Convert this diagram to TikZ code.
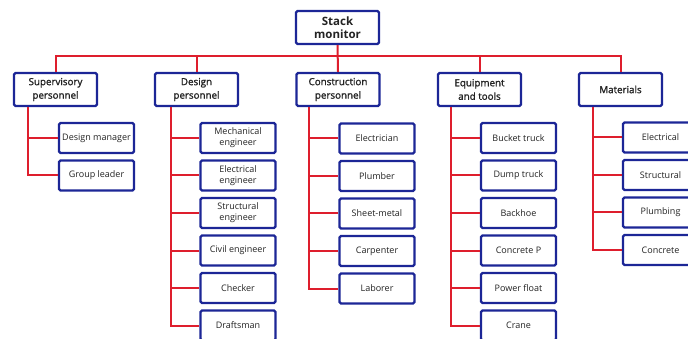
\documentclass[tikz,border=0pt]{standalone}
\usepackage{fontspec}
\setmainfont{Open Sans}
\newfontfamily\semib[FakeBold=1.4]{Open Sans}
\definecolor{boxblue}{RGB}{28,38,150}
\definecolor{linered}{RGB}{222,30,45}
\definecolor{txt}{RGB}{35,35,35}
\begin{document}
\begin{tikzpicture}[x=1pt,y=-1pt,
  box/.style={draw=boxblue,line width=2.2pt,rounded corners=1.5pt,fill=white,text=txt,align=center,inner sep=0pt},
  topbox/.style={box,minimum width=83pt,minimum height=33pt,font=\fontsize{11.5}{13.5}\selectfont\bfseries},
  midbox/.style={box,minimum width=83pt,minimum height=33pt,font=\semib\fontsize{9.8}{13.5}\selectfont},
  leaf/.style={box,minimum width=75pt,minimum height=30pt,font=\fontsize{9}{11}\selectfont},
  wire/.style={draw=linered,line width=2pt}]
\useasboundingbox (0,0) rectangle (688,339);
\clip (0,0) rectangle (688,339);
% top
\node[topbox] (top) at (337.5,27.5) {Stack\\monitor};
% level 2
\node[midbox] (p1) at (55.5,89.5) {Supervisory\\personnel};
\node[midbox] (p2) at (196.5,89.5) {Design\\personnel};
\node[midbox] (p3) at (338,89.5) {Construction\\personnel};
\node[midbox] (p4) at (479.5,89.5) {Equipment\\and tools};
\node[midbox] (p5) at (620.5,89.5) {Materials};
% leaves column 1
\node[leaf] (a1) at (96.5,138) {Design manager};
\node[leaf] (a2) at (96.5,175.5) {Group leader};
% column 2
\node[leaf] (b1) at (238,138) {Mechanical\\engineer};
\node[leaf] (b2) at (238,175.5) {Electrical\\engineer};
\node[leaf] (b3) at (238,213) {Structural\\engineer};
\node[leaf] (b4) at (238,250.5) {Civil engineer};
\node[leaf] (b5) at (238,288) {Checker};
\node[leaf] (b6) at (238,325.5) {Draftsman};
% column 3
\node[leaf] (c1) at (377,138.5) {Electrician};
\node[leaf] (c2) at (377,176) {Plumber};
\node[leaf] (c3) at (377,213.5) {Sheet-metal};
\node[leaf] (c4) at (377,251) {Carpenter};
\node[leaf] (c5) at (377,288.5) {Laborer};
% column 4
\node[leaf] (d1) at (518.5,138) {Bucket truck};
\node[leaf] (d2) at (518.5,175.5) {Dump truck};
\node[leaf] (d3) at (518.5,213) {Backhoe};
\node[leaf] (d4) at (518.5,250.5) {Concrete P};
\node[leaf] (d5) at (518.5,288) {Power float};
\node[leaf] (d6) at (518.5,325.5) {Crane};
% column 5
\node[leaf] (e1) at (660.5,137.5) {Electrical};
\node[leaf] (e2) at (660.5,175) {Structural};
\node[leaf] (e3) at (660.5,212.5) {Plumbing};
\node[leaf] (e4) at (660.5,250) {Concrete};
% bus
\coordinate (bus) at (337.5,56);
\draw[wire] (top.south) -- (p3.north);
\draw[wire] (p1.north) |- (bus) -| (p5.north);
\draw[wire] (p2.north) -- (p2.north |- bus);
\draw[wire] (p4.north) -- (p4.north |- bus);
% branch coordinates
\coordinate (k1) at (28,107);
\coordinate (k2) at (171,107);
\coordinate (k3) at (309,107);
\coordinate (k4) at (451,107);
\coordinate (k5) at (593,107);
\draw[wire] (k1) |- (a2.west);
\draw[wire] (k1 |- a1.west) -- (a1.west);
\draw[wire] (k2) |- (b6.west);
\foreach \n in {b1,b2,b3,b4,b5} \draw[wire] (k2 |- \n.west) -- (\n.west);
\draw[wire] (k3) |- (c5.west);
\foreach \n in {c1,c2,c3,c4} \draw[wire] (k3 |- \n.west) -- (\n.west);
\draw[wire] (k4) |- (d6.west);
\foreach \n in {d1,d2,d3,d4,d5} \draw[wire] (k4 |- \n.west) -- (\n.west);
\draw[wire] (k5) |- (e4.west);
\foreach \n in {e1,e2,e3} \draw[wire] (k5 |- \n.west) -- (\n.west);
\end{tikzpicture}
\end{document}
